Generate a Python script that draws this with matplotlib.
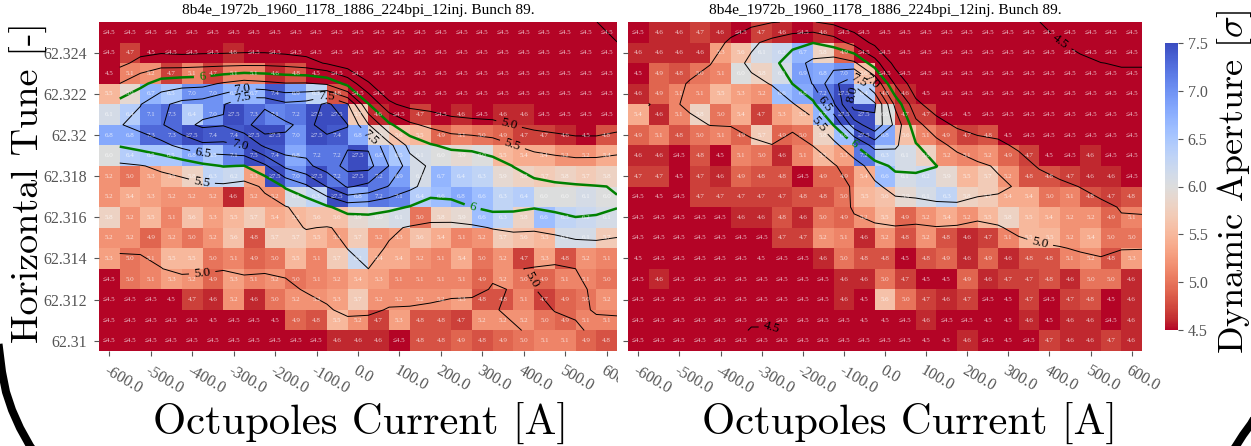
import numpy as np
import matplotlib
matplotlib.use("Agg")
import matplotlib.pyplot as plt
from matplotlib.lines import Line2D
from matplotlib.transforms import Bbox

# L = <=4.5 cell, H = >=7.5 cell
L = 4.4
H = 9.6

tune = [62.325, 62.324, 62.323, 62.322, 62.321, 62.32, 62.319, 62.318,
        62.317, 62.316, 62.315, 62.314, 62.313, 62.312, 62.311, 62.31]
current = [-600, -550, -500, -450, -400, -350, -300, -250, -200, -150, -100, -50, 0,
           50, 100, 150, 200, 250, 300, 350, 400, 450, 500, 550, 600]

left_da = [
    [L, L, L, L, L, L, L, L, L, L, L, L, L, L, L, L, L, L, L, L, L, L, L, L, L],
    [L, 4.7, 4.5, L, L, L, 4.6, L, L, L, L, L, L, L, L, L, L, L, L, L, L, L, L, L, L],
    [4.5, 5.1, 5.2, 4.7, 5.1, 4.7, 5.1, 5.1, 4.6, 4.8, 4.5, L, L, L, L, L, L, L, L, L, L, L, L, L, L],
    [5.5, 5.9, 6.7, 6.5, 7.0, 7.0, 6.7, 6.7, 7.4, 6.9, 6.3, 4.8, L, L, L, L, L, L, L, L, L, L, L, L, L],
    [6.1, 6.4, 7.1, 7.3, 6.4, 7.0, H, 7.3, 7.1, 7.2, H, H, 5.7, 4.6, L, 4.7, L, 4.6, L, 4.6, 4.6, L, L, L, L],
    [6.8, 6.8, 7.3, 7.3, H, 7.4, 7.4, H, H, 7.0, H, 7.4, 6.8, 5.9, 5.6, 5.5, 4.9, 5.1, 5.0, 4.9, 4.7, 4.7, 4.6, 4.5, 4.8],
    [6.0, 6.4, 6.5, 6.5, 6.8, 6.5, 7.1, 7.5, 7.4, 6.8, 7.2, 7.2, H, 6.8, 6.5, 6.1, 6.0, 5.9, 6.0, 5.5, 5.4, 5.4, 5.2, 5.2, 5.4],
    [5.2, 5.0, 5.3, 5.5, 5.8, 6.3, 6.2, 5.3, H, 7.0, H, 7.2, H, 7.2, 6.9, 6.1, 6.7, 6.4, 6.3, 5.9, 5.8, 5.7, 5.8, 5.7, 5.8],
    [5.2, 5.4, 5.3, 5.2, 5.2, 5.2, 4.6, 5.2, 5.2, 6.1, 6.3, H, 6.8, 7.2, 7.1, 6.4, 6.6, 6.8, 6.6, 6.3, 6.4, 6.0, 6.0, 6.1, 6.0],
    [5.8, 5.2, 5.5, 5.1, 5.6, 5.3, 5.5, 5.7, 5.4, 5.5, 5.6, 5.6, 5.9, 6.0, 6.1, 5.0, 5.8, 5.9, 6.6, 6.3, 5.8, 6.6, 6.3, 6.2, 6.1],
    [5.2, 5.2, 4.9, 5.2, 5.0, 5.2, 5.6, 4.8, 5.7, 5.7, 5.5, 5.3, 5.7, 5.2, 5.3, 5.6, 5.4, 5.1, 5.2, 5.7, 5.6, 5.5, 6.1, 6.1, 5.7],
    [5.3, 5.0, 5.1, 5.5, 5.5, 5.0, 5.1, 4.9, 5.0, 5.5, 5.1, 5.7, 6.2, 5.4, 5.4, 5.2, 5.1, 5.4, 5.0, 5.2, 4.7, 5.3, 4.8, 5.2, 5.1],
    [L, 5.0, 5.1, 5.3, 5.2, 4.9, 5.3, 5.1, 5.2, 5.0, 5.1, 5.2, 5.4, 5.3, 5.1, 5.1, 5.1, 5.1, 4.9, 5.2, 5.0, 4.9, 5.1, 5.1, 5.0],
    [L, L, L, 4.5, 4.7, 4.6, 5.2, 4.6, 5.0, 5.2, 5.2, 5.3, 5.7, 5.2, 5.2, 5.2, 5.2, 5.3, 4.8, 4.8, 5.1, 4.7, 4.9, 5.0, 5.2],
    [L, L, L, L, L, 4.5, L, L, 4.5, 4.9, 4.8, 5.5, 5.2, 4.7, 5.3, 4.8, 4.8, 4.7, 5.2, 5.2, 5.2, 5.0, 4.9, 5.1, 5.1],
    [L, L, L, L, L, L, L, L, L, L, L, 4.6, 4.6, 4.6, L, 4.8, 4.8, 4.9, 4.8, 4.9, 5.0, 5.1, 5.1, 4.9, 4.8],
]

right_da = [
    [L, 4.6, 4.6, 4.7, 4.6, L, 4.7, 4.6, L, 4.6, L, L, L, L, L, L, L, L, L, L, L, L, L, L, L],
    [4.6, 4.6, 4.6, 4.6, 5.3, 5.6, 6.1, 6.2, 6.7, 5.8, 4.9, L, L, L, L, L, L, L, L, L, L, L, L, L, L],
    [4.5, 4.9, 4.8, 5.0, 5.1, 6.0, 5.8, 6.1, 6.9, 6.8, 7.0, 5.6, L, L, L, L, L, L, L, L, L, L, L, L, L],
    [4.6, 4.9, 5.1, 5.1, 5.5, 5.3, 5.2, 6.6, 6.8, 7.2, H, 6.4, 4.8, 4.6, 4.5, L, L, L, L, L, L, L, L, L, L],
    [5.4, 4.6, 5.1, 5.8, 5.0, 5.4, 4.7, 5.3, 5.5, 6.7, H, H, 6.0, 4.7, 4.7, L, 4.5, L, L, L, L, L, L, L, L],
    [4.9, 5.1, 4.8, 5.0, 5.1, 4.9, 5.7, 4.9, 5.0, 5.8, 6.6, H, 6.8, 5.6, 5.1, 4.9, 4.7, 4.8, 4.5, L, L, L, L, L, L],
    [4.6, 4.6, L, 4.8, 4.5, 5.1, 5.0, 4.6, 5.1, 5.5, 5.3, 7.2, 6.3, 6.1, 5.8, 5.2, 5.1, 5.2, 4.9, 4.7, 4.5, L, 4.6, L, L],
    [4.7, 4.7, 4.5, 4.7, 4.6, 4.9, 4.8, 4.8, L, 4.9, 4.9, 5.4, 6.6, 6.1, 6.2, 5.9, 5.5, 5.7, 5.2, 4.8, 4.8, 4.7, 4.6, 4.6, L],
    [L, 4.5, L, 4.7, 4.7, 4.7, 4.7, 4.7, 4.8, 4.8, 5.0, 5.5, 5.6, 5.9, 6.1, 6.3, 5.8, 5.7, 5.4, 5.4, 5.0, 5.1, 4.8, 4.7, 4.8],
    [L, L, L, L, L, 4.6, 4.6, 4.8, 4.6, 5.0, 4.9, 5.2, 5.5, 4.9, 5.2, 5.4, 5.2, 5.5, 5.8, 5.5, 5.4, 5.2, 5.2, 4.9, 5.1],
    [L, L, L, L, L, L, L, 4.7, 4.7, 5.2, 5.1, 4.6, 5.2, 4.8, 5.2, 4.8, 4.6, 4.7, 5.1, 5.5, 5.5, 5.2, 5.4, 5.0, 5.0],
    [4.5, L, L, L, L, L, 4.5, L, L, 4.6, 5.0, 4.8, 4.8, 4.5, 4.8, 4.9, 4.6, 4.9, 4.6, 4.8, 4.8, 5.1, 5.2, 4.8, 5.3],
    [L, 4.6, L, L, L, L, L, L, L, L, 4.6, 4.6, 5.0, 4.7, 4.5, 4.5, 4.9, 4.6, 4.7, 4.7, 4.8, 4.6, 5.0, 5.0, 4.6],
    [L, L, L, L, L, L, L, L, L, L, 4.6, 4.5, 5.6, 5.0, 4.7, 4.6, 4.7, L, 4.5, 4.7, L, 4.7, 4.8, 4.5, 4.6],
    [L, L, L, L, L, L, L, L, L, L, L, 4.5, 4.5, L, 4.6, L, L, 4.5, 4.5, 4.6, 4.5, 4.6, 4.6, L, 4.6],
    [L, L, L, L, L, L, L, L, L, L, L, L, L, L, 4.5, 4.5, 4.6, L, 4.5, L, 4.7, 4.6, 4.6, 4.7, 4.6],
]

# cells that really fall under 4.5 in the contour (row, col, value), other <=4.5 cells sit just above it
left_low = [(0, 24, 4.3)]
right_low = [(0, 20, 4.3), (0, 21, 4.3), (0, 22, 4.3), (0, 23, 4.3), (0, 24, 4.3),
             (1, 22, 4.3), (1, 23, 4.3), (1, 24, 4.3), (15, 5, 4.45), (15, 6, 4.45)]

# where the contour labels sit: current, tune
left_labels = [(-376, 62.32292), (277, 62.31655), (-277, 62.3221), (-277, 62.3218),
               (-76, 62.3218), (-374, 62.31913), (-285, 62.31957), (-376, 62.31777),
               (364, 62.32049), (374, 62.31962), (24, 62.31976), (-376, 62.3133),
               (427, 62.31305)]
right_labels = [(-68, 62.32253), (-36, 62.32249), (-73, 62.32195), (-143, 62.32156),
                (-163, 62.32049), (-78, 62.31952), (377, 62.31475), (426, 62.32453),
                (-275, 62.31067)]

title = "8b4e_1972b_1960_1178_1886_224bpi_12inj. Bunch 89."
levels = [4.5, 5.0, 5.5, 6.0, 6.5, 7.0, 7.5, 8.0]
colors_lev = ["black", "black", "black", "green", "black", "black", "black", "black"]
widths_lev = [0.7, 0.7, 0.7, 1.8, 0.7, 0.7, 0.7, 0.7]

plt.rcParams["font.family"] = ["Liberation Serif", "DejaVu Serif"]
plt.rcParams["mathtext.fontset"] = "cm"
GREY = "#555555"
W, H_PX = 1251, 446


def smooth(z):
    k = np.array([1, 2, 1]) / 4
    p = np.pad(z, 1, mode="edge")
    p = np.apply_along_axis(lambda r: np.convolve(r, k, mode="same"), 0, p)
    p = np.apply_along_axis(lambda r: np.convolve(r, k, mode="same"), 1, p)
    return p[1:-1, 1:-1]


def draw(ax, da, low, labels):
    da = np.array(da)
    x = np.array(current, dtype=float)
    y = np.array(tune)
    xe = np.append(x - 25, x[-1] + 25)
    ye = np.append(y + 0.0005, y[-1] - 0.0005)
    mesh = ax.pcolormesh(xe, ye, da, cmap="coolwarm_r", vmin=4.5, vmax=7.5, linewidth=0, rasterized=True)
    for i in range(len(y)):
        for j in range(len(x)):
            v = da[i, j]
            if v < 4.5:
                s = "≤4.5"
            elif v > 7.5:
                s = "≥7.5"
            else:
                s = f"{v:.1f}"
            ax.text(x[j], y[i], s, ha="center", va="center", fontsize=5, color="white", alpha=0.75,
                    family=["Liberation Serif", "DejaVu Sans"])
    ax.set_xlim(xe[0], xe[-1])
    ax.set_ylim(ye[-1], ye[0])
    # contour sits half a cell off the heatmap, same as in the original plot
    z = np.where(da < 4.5, 4.55, da)
    for i, j, v in low:
        z[i, j] = v
    cs = ax.contour(x + 25, y + 0.0005, smooth(z), levels=levels, colors=colors_lev, linewidths=widths_lev)
    ax.clabel(cs, fmt=lambda v: "6" if v == 6 else f"{v:.1f}", fontsize=9.5, manual=labels)
    ax.set_xticks(x[::2])
    ax.set_xticklabels([f"{v:.1f}" for v in x[::2]], rotation=-30, ha="left", rotation_mode="anchor",
                       fontsize=11.5, color=GREY)
    ax.set_yticks(y[1::2])
    for s in ax.spines.values():
        s.set_visible(False)
    ax.tick_params(length=3.5, width=0.8, color=GREY, pad=5, labelcolor=GREY, labelsize=11.5)
    ax.set_title(title, fontsize=11.1, pad=6)
    ax.set_xlabel("Octupoles Current [A]", fontsize=30.7, family="cmr10")
    return mesh


fig = plt.figure(figsize=(W / 100, H_PX / 100), dpi=100)


def box(x0, y0, x1, y1):
    return [x0 / W, 1 - y1 / H_PX, (x1 - x0) / W, (y1 - y0) / H_PX]


ax1 = fig.add_axes(box(99, 22, 617, 351))
ax2 = fig.add_axes(box(628, 22, 1142, 351))
mesh = draw(ax1, left_da, left_low, left_labels)
draw(ax2, right_da, right_low, right_labels)
ax1.set_yticklabels([f"{v:g}" for v in tune[1::2]])
ax2.set_yticklabels([])
ax1.set_ylabel("Horizontal Tune [-]", fontsize=27.5, family="cmr10")
ax1.yaxis.set_label_coords(-0.098, 0.513)
ax1.xaxis.set_label_coords(0.505, -0.158)
ax2.xaxis.set_label_coords(0.547, -0.158)

# the left plot's last label runs into the right plot
for lab in ax1.get_xticklabels():
    lab.set_clip_on(True)
    lab.set_clip_box(Bbox([[0, 0], [618, H_PX]]))

cax = fig.add_axes(box(1165, 43, 1178, 330))
cb = fig.colorbar(mesh, cax=cax)
cb.set_ticks([4.5, 5.0, 5.5, 6.0, 6.5, 7.0, 7.5])
cb.outline.set_visible(False)
cax.tick_params(length=3.5, width=0.8, color=GREY, labelcolor=GREY, labelsize=11.5)
fig.text(1234 / W, 1 - 182 / H_PX, r"Dynamic Aperture [$\sigma$]", rotation=90, ha="center", va="center",
         fontsize=26, family="cmr10")

# frame of the slide behind the chart
arc_l_x = [-3, -2, 2, 6, 12, 20, 30, 40]
arc_l_y = [280, 340, 372, 392, 410, 428, 446, 460]
arc_r_x = [1230, 1236, 1243, 1251, 1258]
arc_r_y = [455, 446, 435, 424, 412]
for ax_, ay_ in [(arc_l_x, arc_l_y), (arc_r_x, arc_r_y)]:
    fig.add_artist(Line2D(np.array(ax_) / W, 1 - np.array(ay_) / H_PX, color="black", lw=5.8))

fig.savefig("out.png", dpi=100)
